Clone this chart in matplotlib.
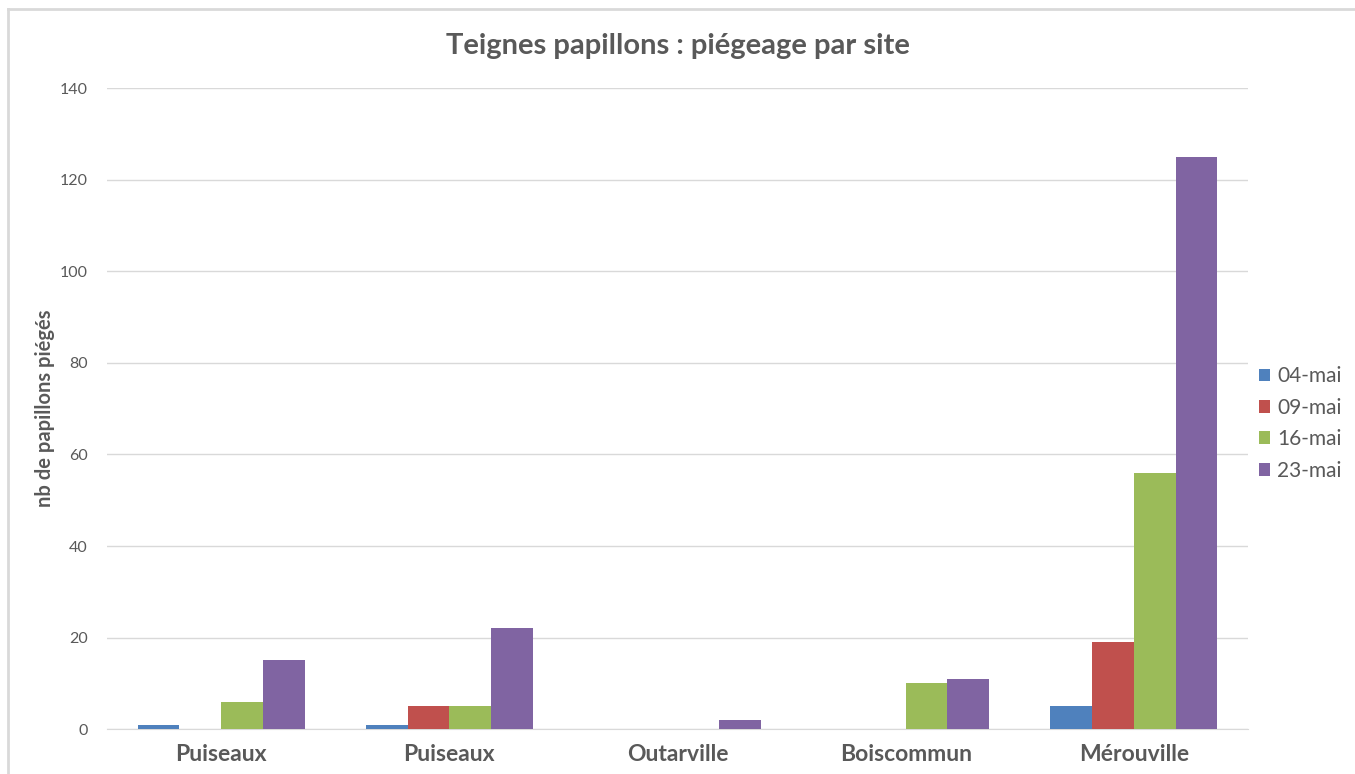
import matplotlib.pyplot as plt
from matplotlib.lines import Line2D
import numpy as np

sites = ['Puiseaux', 'Puiseaux', 'Outarville', 'Boiscommun', 'Mérouville']
dates = ['04-mai', '09-mai', '16-mai', '23-mai']
v_04 = [1, 1, 0, 0, 5]
v_09 = [0, 5, 0, 0, 19]
v_16 = [6, 5, 0, 10, 56]
v_23 = [15, 22, 2, 11, 125]
colors = ['#4F81BD', '#C0504D', '#9BBB59', '#8064A2']

plt.rcParams['font.family'] = ['Lato', 'DejaVu Sans']
grey = '#595959'

fig = plt.figure(figsize=(13.55, 7.74), dpi=100)
ax = fig.add_axes([0.079, 0.058, 0.842, 0.828])

x = np.arange(len(sites))
w = 0.183
series = [v_04, v_09, v_16, v_23]
for i, vals in enumerate(series):
    ax.bar(x + (i - 1.5) * w, vals, w, color=colors[i], label=dates[i],
           linewidth=0, zorder=3)

ax.set_xlim(-0.5, len(sites) - 0.5)
ax.set_ylim(0, 140)
ax.set_yticks(range(0, 141, 20))
ax.set_xticks(x)
ax.set_xticklabels(sites, fontweight='bold', fontsize=16.5, color=grey)
ax.tick_params(axis='x', length=0, pad=11)
ax.tick_params(axis='y', length=0, pad=14, labelsize=11.5, labelcolor=grey)
ax.grid(axis='y', color='#D9D9D9', linewidth=1, zorder=0)
for s in ['top', 'right', 'left']:
    ax.spines[s].set_visible(False)
ax.spines['bottom'].set_color('#D9D9D9')

ax.set_ylabel('nb de papillons piégés', fontsize=14.5, fontweight='bold',
              color=grey, labelpad=3)
fig.text(0.5, 0.94, 'Teignes papillons : piégeage par site', ha='center',
         va='center', fontsize=21, fontweight='bold', color=grey)

leg = ax.legend(loc='center left', bbox_to_anchor=(0.993, 0.477), frameon=False,
                fontsize=15, labelcolor=grey, handlelength=0.55,
                handleheight=0.55, handletextpad=0.35, labelspacing=0.55)

# cadre du graphique (gauche + haut)
fig.add_artist(Line2D([8 / 1355, 8 / 1355], [0, 1 - 9 / 774], color='#D9D9D9', lw=2))
fig.add_artist(Line2D([8 / 1355, 1], [1 - 9 / 774, 1 - 9 / 774], color='#D9D9D9', lw=2))

fig.savefig('out.png', dpi=100)
plt.close('all')
